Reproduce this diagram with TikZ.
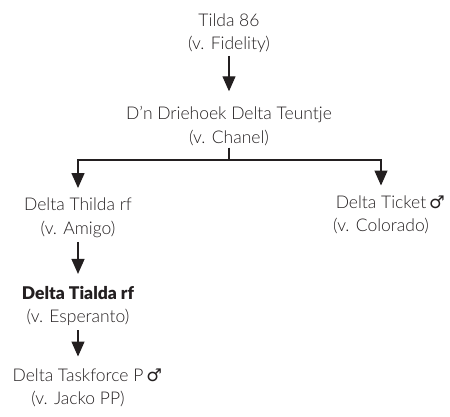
\documentclass[tikz,border=0pt]{standalone}
\usepackage{fontspec}
\setmainfont{Lato}[UprightFont={* Light}, BoldFont={* Black}]
\newfontfamily\symfont{DejaVu Sans}
\usetikzlibrary{arrows.meta}
\definecolor{ink}{HTML}{231F20}
\newcommand{\male}{\rlap{\,{\symfont\char"2642}}}
\begin{document}
\begin{tikzpicture}[x=1pt,y=-1pt,
  lbl/.style={align=center, font=\fontsize{17.5}{23.5}\selectfont, inner sep=0pt, text=ink},
  arr/.style={-{Triangle[width=13pt,length=15pt]}, line width=1.3pt, draw=ink},
  ln/.style={line width=1.3pt, draw=ink}]
\useasboundingbox (0,0) rectangle (450,417);
\node[lbl] (tilda) at (229,33) {Tilda 86\\(v. Fidelity)};
\node[lbl] (teuntje) at (229,126) {D’n Driehoek Delta Teuntje\\(v. Chanel)};
\node[lbl] (thilda) at (78,218) {Delta Thilda rf\\(v. Amigo)};
\node[lbl] (ticket) at (381,215) {Delta Ticket\male\\(v. Colorado)};
\node[lbl] (tialda) at (78,306) {\textbf{Delta Tialda rf}\\(v. Esperanto)};
\node[lbl] (task) at (78,388) {Delta Taskforce P\male\\(v. Jacko PP)};
\coordinate (br) at (229,160);
\draw[arr, shorten <=3pt, shorten >=15pt] (tilda.south) -- (teuntje.north);
\draw[ln, shorten <=2pt] (teuntje.south) -- (br);
\draw[arr, shorten >=10pt] (br) -| (thilda.north);
\draw[arr, shorten >=10pt] (br) -| (ticket.north);
\draw[arr, shorten <=4pt, shorten >=12pt] (thilda.south) -- (tialda.north);
\draw[arr, shorten <=4pt, shorten >=12pt] (tialda.south) -- (task.north);
\end{tikzpicture}
\end{document}
